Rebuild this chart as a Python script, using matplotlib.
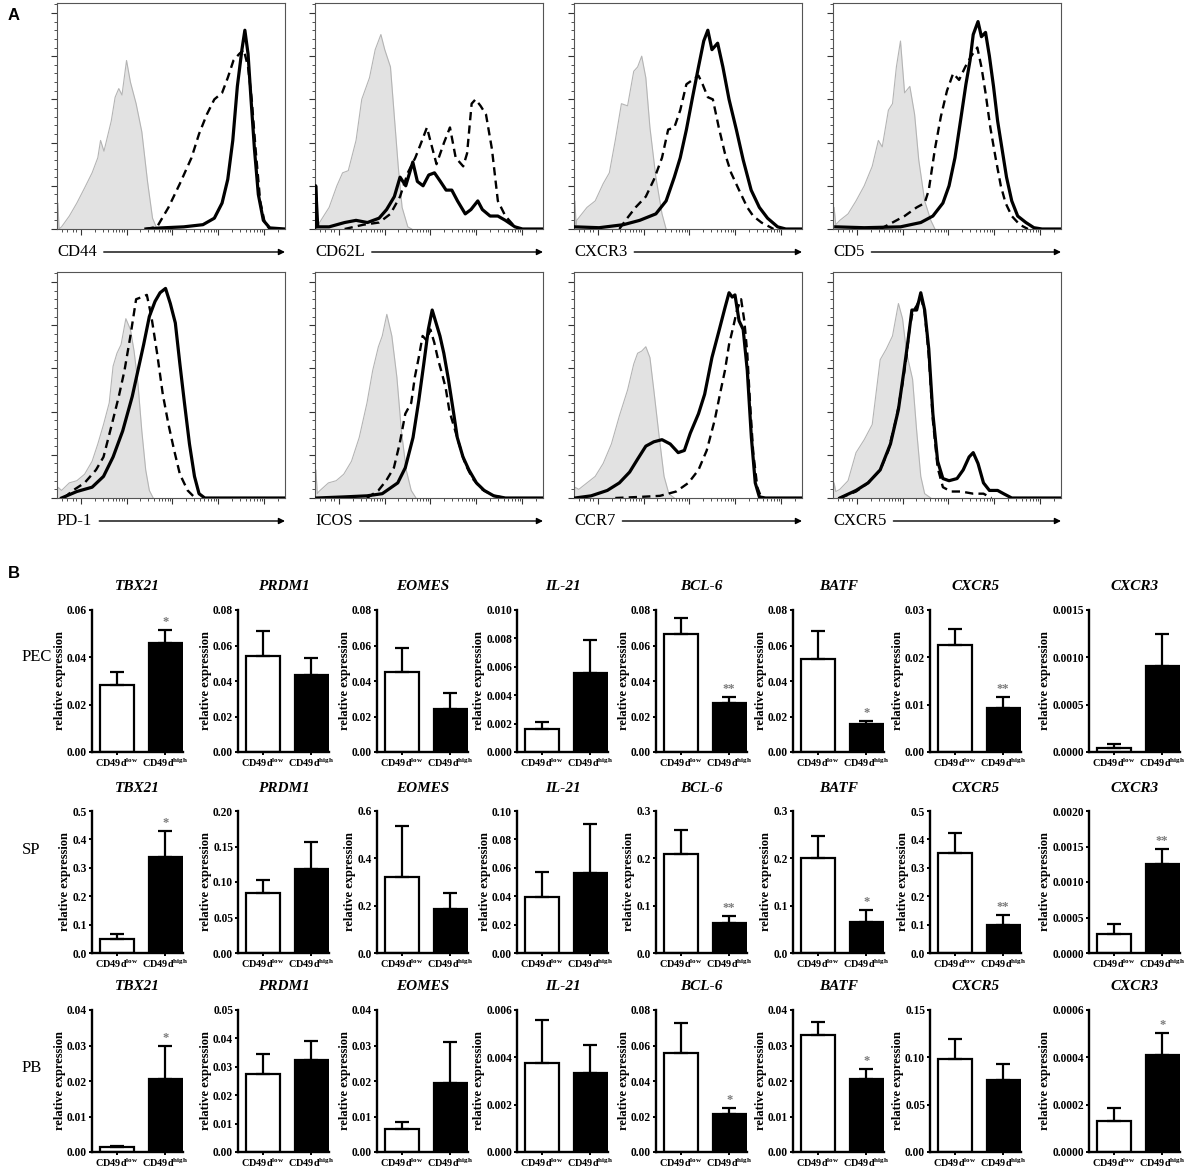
import matplotlib
matplotlib.use("Agg")
import matplotlib.pyplot as plt
import numpy as np
from matplotlib.ticker import MultipleLocator, FixedLocator, NullFormatter

plt.rcParams['font.family'] = 'serif'
plt.rcParams['font.serif'] = ['Liberation Serif', 'DejaVu Serif']
plt.rcParams['mathtext.fontset'] = 'custom'
plt.rcParams['mathtext.rm'] = 'Liberation Serif:bold'
plt.rcParams['mathtext.bf'] = 'Liberation Serif:bold'
plt.rcParams['mathtext.it'] = 'Liberation Serif:bold:italic'

# ---------------- panel A: flow histograms (x = scale fraction, y = % of max) -------------
markers = ['CD44', 'CD62L', 'CXCR3', 'CD5', 'PD-1', 'ICOS', 'CCR7', 'CXCR5']

cd44_gray = [(0.0,0),(0.004,12),(0.009,0),(0.02,1),(0.054,6),(0.087,12),(0.121,19),(0.154,26),(0.179,33),
             (0.191,41),(0.206,36),(0.238,50),(0.255,61),(0.271,65),(0.285,62),(0.305,78),(0.322,68),
             (0.347,58),(0.372,45),(0.397,22),(0.419,5),(0.439,0)]
cd44_dash = [(0.389,0),(0.439,1),(0.489,10),(0.539,21),(0.59,33),(0.623,44),(0.657,53),(0.69,60),(0.724,63),
             (0.749,70),(0.774,78),(0.799,81),(0.819,83),(0.838,75),(0.854,60),(0.871,37),(0.891,13),
             (0.911,3),(0.933,0)]
cd44_solid = [(0.39,0),(0.456,0.5),(0.556,1),(0.64,2),(0.69,5),(0.724,12),(0.749,23),(0.771,41),(0.791,66),
              (0.811,83),(0.824,92),(0.838,81),(0.851,60),(0.866,37),(0.883,16),(0.905,4),(0.933,0.5),(1.0,0)]

cd62l_gray = [(0.01,0),(0.02,3),(0.062,10),(0.096,20),(0.121,26),(0.146,27),(0.18,41),(0.205,60),(0.222,65),
              (0.239,70),(0.264,83),(0.289,90),(0.306,83),(0.331,75),(0.348,52),(0.365,29),(0.382,10),
              (0.407,1),(0.424,0)]
cd62l_dash = [(0.13,0),(0.213,2),(0.281,3),(0.331,7),(0.373,15),(0.407,26),(0.44,33),(0.466,40),(0.491,47),
              (0.508,40),(0.533,30),(0.566,40),(0.592,47),(0.617,33),(0.65,29),(0.667,35),(0.687,58),
              (0.704,60),(0.726,57),(0.75,53),(0.776,37),(0.802,13),(0.835,6),(0.877,1),(0.9,0)]
cd62l_solid = [(0.0,0),(0.003,20),(0.012,1),(0.062,1),(0.13,3),(0.18,4),(0.23,3),(0.281,5),(0.314,9),
               (0.348,15),(0.373,24),(0.398,20),(0.429,31),(0.449,22),(0.474,20),(0.499,25),(0.524,26),
               (0.55,22),(0.575,18),(0.6,18),(0.625,13),(0.659,7),(0.684,9),(0.714,13),(0.734,9),(0.768,6),
               (0.802,6),(0.835,4),(0.877,1),(0.91,0),(1.0,0)]

cxcr3_gray = [(0.0,0),(0.004,13),(0.009,2),(0.012,4),(0.057,10),(0.093,13),(0.128,21),(0.155,26),(0.181,41),
              (0.208,58),(0.235,57),(0.262,73),(0.279,75),(0.297,80),(0.315,70),(0.333,47),(0.359,24),
              (0.386,7),(0.404,0)]
cxcr3_dash = [(0.199,0),(0.226,4),(0.27,10),(0.315,15),(0.351,23),(0.386,33),(0.413,46),(0.44,47),(0.466,55),
              (0.493,67),(0.52,69),(0.546,71),(0.564,67),(0.587,61),(0.609,60),(0.635,47),(0.662,35),
              (0.689,26),(0.724,18),(0.76,10),(0.786,6),(0.822,3),(0.858,1),(0.875,0)]
cxcr3_solid = [(0.004,1),(0.11,0.6),(0.217,2),(0.288,4),(0.359,7),(0.404,13),(0.44,24),(0.466,33),(0.493,46),
               (0.52,61),(0.546,75),(0.569,87),(0.587,92),(0.605,83),(0.63,86),(0.653,75),(0.68,60),
               (0.712,46),(0.742,32),(0.777,18),(0.813,10),(0.849,5),(0.893,1),(0.929,0),(1.0,0)]

cd5_gray = [(0.0,0),(0.005,10),(0.012,2),(0.03,4),(0.066,7),(0.101,13),(0.137,20),(0.172,29),(0.199,41),
            (0.216,38),(0.243,55),(0.261,58),(0.278,75),(0.296,87),(0.314,63),(0.337,66),(0.358,53),
            (0.376,32),(0.402,13),(0.429,4),(0.447,0)]
cd5_dash = [(0.207,0),(0.261,3),(0.314,6),(0.367,10),(0.402,12),(0.42,18),(0.447,37),(0.473,52),(0.5,64),
            (0.527,72),(0.553,69),(0.58,75),(0.606,80),(0.633,84),(0.651,75),(0.669,63),(0.69,47),(0.713,33),
            (0.736,20),(0.757,12),(0.784,6),(0.819,2),(0.855,0)]
cd5_solid = [(0.012,1),(0.137,0.6),(0.296,1),(0.385,3),(0.438,6),(0.482,12),(0.509,20),(0.535,33),(0.562,52),
             (0.583,67),(0.601,78),(0.615,90),(0.636,96),(0.651,89),(0.669,91),(0.686,80),(0.704,66),
             (0.722,50),(0.74,38),(0.761,24),(0.784,13),(0.81,6),(0.846,3),(0.881,0.6),(0.917,0),(1.0,0)]

pd1_gray = [(0.0,0),(0.004,5),(0.02,3.5),(0.054,7),(0.087,8),(0.121,11),(0.154,17),(0.179,25),(0.204,34),
            (0.229,44),(0.246,61),(0.263,67),(0.281,71),(0.302,83),(0.322,78),(0.338,68),(0.355,53),
            (0.372,31),(0.389,13),(0.405,3.5),(0.422,0)]
pd1_dash = [(0.03,0),(0.07,3.5),(0.121,7),(0.171,13),(0.204,19),(0.238,33),(0.271,47),(0.296,59),(0.322,75),
            (0.347,92),(0.372,93),(0.394,94),(0.414,84),(0.439,67),(0.464,48),(0.489,34),(0.514,22),
            (0.539,11),(0.573,3.5),(0.606,0)]
pd1_solid = [(0.02,0),(0.087,3),(0.154,5),(0.204,10),(0.246,19),(0.288,31),(0.33,47),(0.355,59),(0.38,71),
             (0.405,84),(0.43,91),(0.452,95),(0.476,97),(0.497,90),(0.519,81),(0.539,62),(0.559,44),
             (0.581,25),(0.603,10),(0.623,2),(0.648,0),(1.0,0)]

icos_gray = [(0.0,0),(0.004,13),(0.01,2),(0.017,3),(0.059,7),(0.093,8),(0.126,11),(0.16,17),(0.194,28),
             (0.228,44),(0.253,59),(0.278,70),(0.295,75),(0.315,85),(0.337,75),(0.359,56),(0.379,31),
             (0.4,13),(0.422,3.5),(0.443,0)]
icos_dash = [(0.228,0),(0.278,3.5),(0.312,8),(0.346,14),(0.371,25),(0.396,39),(0.422,44),(0.438,56),
             (0.455,65),(0.472,75),(0.489,73),(0.506,78),(0.523,72),(0.54,64),(0.556,58),(0.573,51),
             (0.59,40),(0.607,34),(0.632,25),(0.658,16),(0.691,9),(0.733,4),(0.784,1),(0.835,0)]
icos_solid = [(0.008,0),(0.126,0.5),(0.228,1),(0.295,2),(0.363,7),(0.396,14),(0.43,28),(0.455,45),
              (0.477,62),(0.497,78),(0.514,87),(0.531,81),(0.548,75),(0.565,67),(0.585,55),(0.607,40),
              (0.624,28),(0.649,19),(0.675,13),(0.708,7),(0.742,3.5),(0.784,1),(0.835,0),(1.0,0)]

ccr7_gray = [(0.0,0),(0.004,5),(0.021,4),(0.057,7),(0.093,10),(0.128,16),(0.164,25),(0.199,38),(0.235,50),
             (0.262,62),(0.279,67),(0.297,68),(0.315,70),(0.333,65),(0.35,50),(0.374,28),(0.395,10),
             (0.416,2),(0.44,0)]
ccr7_dash = [(0.181,0),(0.288,0.5),(0.377,1),(0.448,3),(0.502,7),(0.546,13),(0.582,22),(0.617,36),(0.644,50),
             (0.662,59),(0.68,71),(0.698,79),(0.715,87),(0.733,92),(0.747,82),(0.76,67),(0.772,44),
             (0.786,21),(0.804,5),(0.822,0)]
ccr7_solid = [(0.004,0),(0.075,1),(0.146,3.5),(0.199,7),(0.244,12),(0.279,18),(0.315,24),(0.35,26),
              (0.386,27),(0.422,25),(0.457,21),(0.484,22),(0.51,30),(0.546,39),(0.573,48),(0.605,65),
              (0.635,77),(0.662,88),(0.68,95),(0.694,93),(0.706,94),(0.724,82),(0.742,78),(0.76,59),
              (0.778,28),(0.795,7),(0.813,0.5),(0.84,0),(1.0,0)]

cxcr5_gray = [(0.0,0),(0.005,7),(0.012,3),(0.03,4),(0.066,8),(0.101,21),(0.137,27),(0.172,34),(0.207,64),
              (0.234,69),(0.261,75),(0.287,90),(0.305,83),(0.323,67),(0.349,55),(0.367,31),(0.385,10),
              (0.402,2),(0.429,0)]
cxcr5_dash = [(0.03,0),(0.101,3),(0.154,7),(0.207,13),(0.243,22),(0.278,37),(0.305,53),(0.323,66),
              (0.335,78),(0.349,86),(0.367,89),(0.385,93),(0.402,86),(0.42,66),(0.438,36),(0.459,14),
              (0.482,5),(0.518,3),(0.562,3),(0.615,2),(0.66,2),(0.695,0)]
cxcr5_solid = [(0.03,0),(0.101,3.5),(0.154,7),(0.207,13),(0.252,25),(0.287,41),(0.31,58),(0.328,72),
               (0.346,87),(0.367,87),(0.385,95),(0.402,87),(0.42,69),(0.438,39),(0.459,17),(0.482,9),
               (0.509,8),(0.544,9),(0.571,13),(0.597,19),(0.615,21),(0.636,16),(0.66,7),(0.686,3.5),
               (0.722,3.5),(0.748,2),(0.784,0),(1.0,0)]

gray_curves = [cd44_gray, cd62l_gray, cxcr3_gray, cd5_gray, pd1_gray, icos_gray, ccr7_gray, cxcr5_gray]
dash_curves = [cd44_dash, cd62l_dash, cxcr3_dash, cd5_dash, pd1_dash, icos_dash, ccr7_dash, cxcr5_dash]
solid_curves = [cd44_solid, cd62l_solid, cxcr3_solid, cd5_solid, pd1_solid, icos_solid, ccr7_solid, cxcr5_solid]

# ---------------- panel B: qPCR bars ---------------------------------------------------
genes = ['TBX21', 'PRDM1', 'EOMES', 'IL-21', 'BCL-6', 'BATF', 'CXCR5', 'CXCR3']
tissues = ['PEC', 'SP', 'PB']
groups = ['CD49d$^{\\mathrm{low}}$', 'CD49d$^{\\mathrm{high}}$']

pec_low = [0.0285, 0.0541, 0.0453, 0.00165, 0.0662, 0.0526, 0.0227, 0.000046]
pec_low_err = [0.0051, 0.0138, 0.0132, 0.00049, 0.0093, 0.0157, 0.0033, 0.000034]
pec_high = [0.0459, 0.0434, 0.0241, 0.00558, 0.0277, 0.0160, 0.0094, 0.000911]
pec_high_err = [0.0055, 0.0096, 0.0093, 0.0023, 0.0033, 0.0014, 0.0023, 0.00034]
pec_stars = ['*', '', '', '', '**', '*', '**', '']
pec_ymax = [0.06, 0.08, 0.08, 0.010, 0.08, 0.08, 0.03, 0.0015]
pec_step = [0.02, 0.02, 0.02, 0.002, 0.02, 0.02, 0.01, 0.0005]
pec_dec = [2, 2, 2, 3, 2, 2, 2, 4]

sp_low = [0.051, 0.0841, 0.322, 0.0393, 0.2095, 0.200, 0.3515, 0.000266]
sp_low_err = [0.017, 0.0182, 0.213, 0.0175, 0.050, 0.048, 0.0695, 0.000141]
sp_high = [0.339, 0.119, 0.185, 0.056, 0.064, 0.066, 0.0986, 0.001252]
sp_high_err = [0.091, 0.038, 0.067, 0.0351, 0.0146, 0.0245, 0.036, 0.000215]
sp_stars = ['*', '', '', '', '**', '*', '**', '**']
sp_ymax = [0.5, 0.20, 0.6, 0.10, 0.3, 0.3, 0.5, 0.0020]
sp_step = [0.1, 0.05, 0.2, 0.02, 0.1, 0.1, 0.1, 0.0005]
sp_dec = [1, 2, 1, 2, 1, 1, 1, 4]

pb_low = [0.0013, 0.0274, 0.00646, 0.00375, 0.0556, 0.0330, 0.098, 0.000132]
pb_low_err = [0.0005, 0.0070, 0.00206, 0.00183, 0.0169, 0.0037, 0.021, 0.000053]
pb_high = [0.0205, 0.0324, 0.0193, 0.00333, 0.0215, 0.0206, 0.0762, 0.00041]
pb_high_err = [0.0094, 0.0067, 0.0116, 0.00118, 0.0032, 0.0027, 0.0166, 0.000092]
pb_stars = ['*', '', '', '', '*', '*', '', '*']
pb_ymax = [0.04, 0.05, 0.04, 0.006, 0.08, 0.04, 0.15, 0.0006]
pb_step = [0.01, 0.01, 0.01, 0.002, 0.02, 0.01, 0.05, 0.0002]
pb_dec = [2, 2, 2, 3, 2, 2, 2, 4]

# ---------------- layout (pixels) -------------------------------------------------------
W, H = 1192, 1169
fig = plt.figure(figsize=(W / 100, H / 100), dpi=100)


def px_axes(left, top, width, height):
    return fig.add_axes([left / W, 1 - (top + height) / H, width / W, height / H])


hist_lefts = [57, 315, 574, 833]
hist_tops = [3, 272]
hist_w, hist_h = 228, 226
decades = [0.104, 0.305, 0.506, 0.707, 0.908]

hist_axes = []
for i, name in enumerate(markers):
    ax = px_axes(hist_lefts[i % 4], hist_tops[i // 4], hist_w, hist_h)
    gx, gy = zip(*gray_curves[i])
    ax.fill_between(gx, gy, color='#e2e2e2', lw=0, zorder=1)
    ax.plot(gx, gy, color='#b4b4b4', lw=0.8, zorder=2)
    dx, dy = zip(*dash_curves[i])
    ax.plot(dx, dy, color='black', lw=1.7, ls=(0, (3.5, 2.2)), zorder=3)
    sx, sy = zip(*solid_curves[i])
    ax.plot(sx, sy, color='black', lw=2.3, zorder=4, solid_joinstyle='round')
    ax.set_xlim(0, 1)
    ax.set_ylim(0, 104.6)
    ax.yaxis.set_major_locator(MultipleLocator(20))
    ax.yaxis.set_minor_locator(MultipleLocator(4))
    minors = [0.02, 0.045, 0.07, 0.085]
    for d in decades:
        minors += [d + 0.201 * np.log10(k) for k in range(2, 10) if d + 0.201 * np.log10(k) < 1]
    ax.xaxis.set_major_locator(FixedLocator(decades))
    ax.xaxis.set_minor_locator(FixedLocator(minors))
    ax.xaxis.set_major_formatter(NullFormatter())
    ax.yaxis.set_major_formatter(NullFormatter())
    ax.tick_params(which='major', length=4.5, width=0.8, color='#333333', direction='out')
    ax.tick_params(which='minor', length=2.2, width=0.6, color='#333333', direction='out')
    for s in ax.spines.values():
        s.set_color('#555555')
        s.set_linewidth(0.8)
    ax.text(0.0, -23 / hist_h, name, transform=ax.transAxes, ha='left', va='center', fontsize=12)
    hist_axes.append(ax)

fig.text(8 / W, 1 - 15 / H, 'A', fontsize=12, fontweight='bold', family='Liberation Sans', va='center')
fig.text(8 / W, 1 - 573 / H, 'B', fontsize=12, fontweight='bold', family='Liberation Sans', va='center')

bar_lefts = [92, 238, 377, 517, 656, 793, 930, 1089]
bar_tops = [610, 811, 1010]
bar_w, bar_h = 91, 142
row_label_y = [657, 850, 1068]

rows = [
    (pec_low, pec_low_err, pec_high, pec_high_err, pec_stars, pec_ymax, pec_step, pec_dec),
    (sp_low, sp_low_err, sp_high, sp_high_err, sp_stars, sp_ymax, sp_step, sp_dec),
    (pb_low, pb_low_err, pb_high, pb_high_err, pb_stars, pb_ymax, pb_step, pb_dec),
]

for r, (low, low_e, high, high_e, stars, ymax, step, dec) in enumerate(rows):
    fig.text(22 / W, 1 - row_label_y[r] / H, tissues[r], fontsize=12, va='center', ha='left')
    for c, gene in enumerate(genes):
        ax = px_axes(bar_lefts[c], bar_tops[r], bar_w, bar_h)
        vals = [low[c], high[c]]
        errs = [low_e[c], high_e[c]]
        ax.bar([0, 1], vals, width=0.69, color=['white', 'black'], edgecolor='black', linewidth=1.6, zorder=2)
        ax.errorbar([0, 1], vals, yerr=[[0, 0], errs], fmt='none', ecolor='black', elinewidth=1.6,
                    capsize=5, capthick=1.6, zorder=3)
        if stars[c]:
            ax.annotate(stars[c], xy=(1, high[c] + high_e[c]), xytext=(0, 1.5), textcoords='offset points',
                        ha='center', va='bottom', color='#7a7a7a', fontsize=9, fontweight='bold')
        ax.set_xlim(-0.52, 1.37)
        ax.set_ylim(0, ymax[c])
        ticks = np.arange(0, ymax[c] + step[c] / 2, step[c])
        ax.set_yticks(ticks)
        ax.set_yticklabels([f'{t:.{dec[c]}f}' for t in ticks], fontweight='bold', fontsize=8.3)
        ax.set_xticks([0, 1])
        ax.set_xticklabels(groups, fontweight='bold', fontsize=7.4)
        ax.tick_params(axis='y', length=2.5, width=1.4, pad=1)
        ax.tick_params(axis='x', length=2, width=1.4, pad=1.5)
        for s in ['top', 'right']:
            ax.spines[s].set_visible(False)
        for s in ['left', 'bottom']:
            ax.spines[s].set_linewidth(1.7)
        ax.set_ylabel('relative expression', fontsize=9, fontweight='bold', labelpad=1)
        ax.text(0.5, 1 + 23 / bar_h, gene, transform=ax.transAxes, ha='center', va='center',
                fontsize=11, fontweight='bold', fontstyle='italic')

# arrows after the axis names in panel A
fig.canvas.draw()
renderer = fig.canvas.get_renderer()
for ax in hist_axes:
    t = ax.texts[0]
    bb = t.get_window_extent(renderer)
    x0 = ax.transAxes.inverted().transform((bb.x1 + 7, bb.y0))[0]
    y = -23 / hist_h
    ax.annotate('', xy=(1.0, y), xytext=(x0, y), xycoords='axes fraction', textcoords='axes fraction',
                arrowprops=dict(arrowstyle='-|>', lw=1.0, color='black', mutation_scale=9,
                                shrinkA=0, shrinkB=0), annotation_clip=False)

fig.savefig('out.png', dpi=100)
